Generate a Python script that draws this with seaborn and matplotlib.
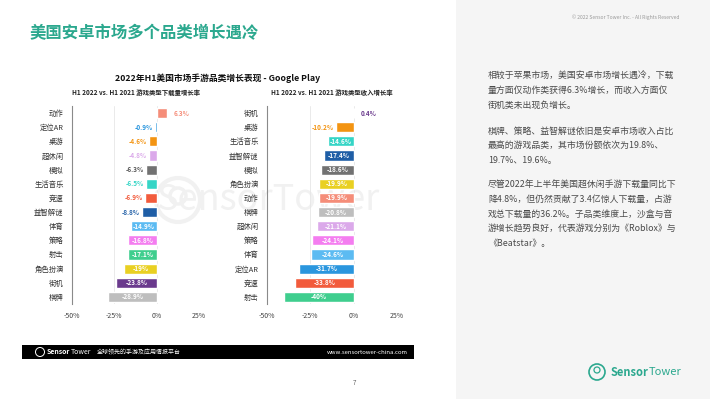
import matplotlib
matplotlib.use("Agg")
import matplotlib.pyplot as plt
import seaborn as sns
import pandas as pd
from matplotlib.patches import Rectangle, Circle
from matplotlib.transforms import IdentityTransform

sns.set_theme(style="white")
plt.rcParams['font.family'] = ['Noto Sans CJK SC', 'DejaVu Sans']

# ---------------- data ----------------
dl_categories = ["动作", "定位AR", "桌游", "超休闲", "模拟", "生活音乐", "竞速", "益智解谜",
                 "体育", "策略", "射击", "角色扮演", "街机", "棋牌"]
dl_values = [6.3, -0.9, -4.6, -4.8, -6.3, -6.5, -6.9, -8.8,
             -14.9, -16.8, -17.1, -19, -23.8, -28.9]

rev_categories = ["街机", "桌游", "生活音乐", "益智解谜", "模拟", "角色扮演", "动作", "棋牌",
                  "超休闲", "策略", "体育", "定位AR", "竞速", "射击"]
rev_values = [0.4, -10.2, -14.6, -17.4, -18.6, -19.9, -19.9, -20.8,
              -21.1, -24.1, -24.6, -31.7, -33.8, -40]

x_ticks = [-50, -25, 0, 25]
x_ticklabels = ["-50%", "-25%", "0%", "25%"]

palette = {
    "动作": "#F58D79", "定位AR": "#2A96DE", "桌游": "#F39412", "超休闲": "#DBA9EA",
    "模拟": "#727272", "生活音乐": "#35D5C6", "竞速": "#F25B3C", "益智解谜": "#1F5EA6",
    "体育": "#5CBBF2", "策略": "#F47DF0", "射击": "#3FCE8E", "角色扮演": "#E9D022",
    "街机": "#6A3A8D", "棋牌": "#BEBEBE",
}
label_colors = dict(palette)
label_colors["模拟"] = "#555555"

page_title = "美国安卓市场多个品类增长遇冷"
chart_title = "2022年H1美国市场手游品类增长表现 - Google Play"
sub_left = "H1 2022 vs. H1 2021 游戏类型下载量增长率"
sub_right = "H1 2022 vs. H1 2021 游戏类型收入增长率"
paragraphs = [
    ["相较于苹果市场，美国安卓市场增长遇冷，下载",
     "量方面仅动作类获得6.3%增长，而收入方面仅",
     "街机类未出现负增长。"],
    ["棋牌、策略、益智解谜依旧是安卓市场收入占比",
     "最高的游戏品类，其市场份额依次为19.8%、",
     "19.7%、19.6%。"],
    ["尽管2022年上半年美国超休闲手游下载量同比下",
     "降4.8%，但仍然贡献了3.4亿惊人下载量，占游",
     "戏总下载量的36.2%。子品类维度上，沙盒与音",
     "游增长趋势良好，代表游戏分别为《Roblox》与",
     "《Beatstar》。"],
]

W, H = 710, 399
fig = plt.figure(figsize=(W / 100, H / 100), dpi=100)
fig.patch.set_facecolor("white")
PX = IdentityTransform()


def fx(x):
    return x / W


def fy(y):
    return 1 - y / H


def circ(x, y, r, color, lw, z=2):
    fig.add_artist(Circle((x, H - y), r, transform=PX, fill=False, edgecolor=color,
                          linewidth=lw, zorder=z))


def brand(x, y, size, color, gap=0.5):
    t1 = fig.text(fx(x), fy(y), "Sensor", fontsize=size, fontweight="bold", color=color,
                  ha="left", va="center")
    fig.canvas.draw()
    bb = t1.get_window_extent(renderer=fig.canvas.get_renderer())
    fig.text(fx(bb.x1 + gap), fy(y), "Tower", fontsize=size, color=color,
             ha="left", va="center")


# right grey panel
fig.add_artist(Rectangle((fx(456), 0), 1 - fx(456), 1, transform=fig.transFigure,
                         facecolor="#F5F5F5", edgecolor="none", zorder=-2))

TEAL = "#2BA88E"
fig.text(fx(29), fy(33), page_title, fontsize=11.8, fontweight="bold", color=TEAL,
         ha="left", va="center")
fig.text(fx(218), fy(78), chart_title, fontsize=6.3, fontweight="bold", color="#111111",
         ha="center", va="center")
fig.text(fx(136), fy(93), sub_left, fontsize=4.6, fontweight="bold", color="#222222",
         ha="center", va="center")
fig.text(fx(332), fy(93), sub_right, fontsize=4.6, fontweight="bold", color="#222222",
         ha="center", va="center")

# watermark (behind the charts)
fig.text(fx(268), fy(200), "SensorTower", fontsize=26, color="#F1F1F1", ha="center",
         va="center", zorder=-1)
circ(178, 200, 22, "#F1F1F1", 3, z=-1)
circ(178, 196, 8, "#F1F1F1", 2.5, z=-1)


def draw(ax, cats, vals):
    df = pd.DataFrame({"cat": cats, "value": vals})
    sns.barplot(data=df, x="value", y="cat", hue="cat", palette=palette, legend=False,
                ax=ax, orient="h", width=0.72, saturation=1, zorder=3)
    ax.set_xlim(-50, 25)
    ax.set_ylim(len(cats) - 0.5, -0.5)
    ax.set_xticks(x_ticks)
    ax.set_xticklabels(x_ticklabels, fontsize=5, color="#444444")
    ax.tick_params(axis="y", labelsize=5.3, colors="#333333", length=0, pad=6)
    ax.tick_params(axis="x", length=0, pad=6)
    ax.set_xlabel("")
    ax.set_ylabel("")
    ax.patch.set_alpha(0)
    for s in ["top", "right", "bottom"]:
        ax.spines[s].set_visible(False)
    ax.spines["left"].set_color("#8A8A8A")
    ax.spines["left"].set_linewidth(0.8)
    for xv in [-25, 0, 25]:
        ax.axvline(xv, color="#E6E6E6", linewidth=0.6, zorder=1)
    for i, (c, v) in enumerate(zip(cats, vals)):
        txt = f"{v:g}%"
        if v > 0:
            ax.text(v + 3.5, i, txt, ha="left", va="center", fontsize=4.6,
                    fontweight="bold", color=label_colors[c], zorder=4)
        elif abs(v) < 12:
            ax.text(v - 1.2, i, txt, ha="right", va="center", fontsize=4.6,
                    fontweight="bold", color=label_colors[c], zorder=4)
        else:
            ax.text(v / 2, i, txt, ha="center", va="center", fontsize=4.6,
                    fontweight="bold", color="white", zorder=4)


ax1 = fig.add_axes([fx(72), fy(304), fx(199) - fx(72), fy(106) - fy(304)])
draw(ax1, dl_categories, dl_values)
ax2 = fig.add_axes([fx(267), fy(304), fx(397) - fx(267), fy(106) - fy(304)])
draw(ax2, rev_categories, rev_values)

# right panel text
fig.text(fx(680), fy(17), "© 2022 Sensor Tower Inc. - All Rights Reserved", fontsize=3.6,
         color="#9A9A9A", ha="right", va="center")
starts = [76, 131, 185]
for p, y0 in zip(paragraphs, starts):
    for j, line in enumerate(p):
        fig.text(fx(488), fy(y0 + j * 14.6), line, fontsize=6.4, color="#4A4A4A",
                 ha="left", va="center")

# right bottom logo
circ(597, 372, 8, TEAL, 1.2)
circ(597, 370, 3, TEAL, 0.9)
brand(611, 372, 8.0, TEAL, gap=-0.5)

# footer bar
fig.add_artist(Rectangle((fx(22), fy(359)), fx(414) - fx(22), fy(345) - fy(359),
                         transform=fig.transFigure, facecolor="black", edgecolor="none"))
circ(40, 352, 4.5, "white", 0.7)
brand(47, 352, 5, "white", gap=0.0)
fig.text(fx(97), fy(352), "全球领先的手游及应用情报平台", fontsize=4.3, color="white",
         ha="left", va="center")
fig.text(fx(408), fy(352), "www.sensortower-china.com", fontsize=4.3, color="white",
         ha="right", va="center")
fig.text(fx(354), fy(383), "7", fontsize=4.5, color="#666666", ha="center", va="center")

fig.savefig("out.png", dpi=100)
